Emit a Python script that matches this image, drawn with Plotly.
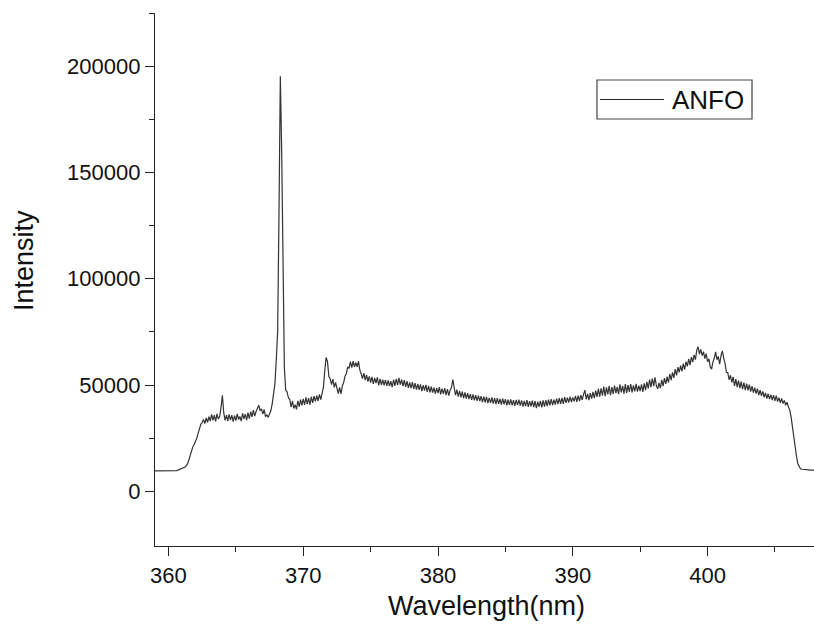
import numpy as np
import plotly.graph_objects as go

# wavelength grid (nm), 0.1 nm sampling
wavelength = np.round(np.arange(359.0, 407.95, 0.1), 1)

# intensity, in thousands, one row per nm
intensity_k = [
    9.6, 9.6, 9.6, 9.6, 9.6, 9.6, 9.6, 9.6, 9.6, 9.6,           # 359
    9.6, 9.6, 9.6, 9.6, 9.7, 9.7, 9.8, 10.0, 10.2, 10.4,        # 360
    10.6, 10.9, 11.3, 11.9, 12.8, 14.5, 16.6, 19.3, 20.8, 22.0, # 361
    23.3, 25.0, 27.3, 30.1, 31.5, 32.4, 33.8, 31.9, 34.6, 32.5, # 362
    35.1, 33.0, 36.2, 33.4, 35.8, 32.9, 36.4, 34.0, 35.2, 39.5, # 363
    45.2, 37.0, 33.4, 35.8, 33.1, 36.2, 33.5, 35.9, 32.8, 35.6, # 364
    33.3, 36.4, 33.8, 35.2, 33.0, 36.7, 34.1, 36.3, 33.5, 37.0, # 365
    34.2, 37.5, 35.0, 38.2, 35.4, 37.6, 39.2, 40.5, 37.9, 38.8, # 366
    36.4, 38.5, 35.2, 36.0, 34.8, 36.5, 38.0, 41.3, 45.0, 50.7, # 367
    62.0, 75.0, 130.0, 195.3, 160.0, 92.0, 58.0, 47.5, 46.8, 44.0, # 368
    43.2, 39.6, 42.5, 39.0, 40.8, 38.6, 42.6, 39.8, 43.2, 40.5, # 369
    43.5, 40.7, 44.2, 41.0, 43.9, 40.8, 44.5, 41.6, 44.8, 42.3, # 370
    45.0, 42.5, 45.6, 43.2, 45.8, 49.0, 57.0, 63.0, 61.0, 54.0, # 371
    53.0, 50.2, 52.8, 48.9, 51.2, 47.6, 46.0, 48.9, 45.8, 49.5, # 372
    51.2, 54.2, 55.4, 58.6, 57.8, 61.0, 58.2, 61.3, 58.5, 60.6, # 373
    58.6, 61.2, 57.0, 55.3, 53.0, 55.6, 52.3, 54.8, 51.6, 54.1, # 374
    51.2, 53.8, 50.6, 53.4, 50.9, 53.6, 49.8, 52.9, 50.1, 52.6, # 375
    49.9, 52.4, 49.6, 52.2, 49.5, 51.8, 49.0, 52.5, 49.6, 52.9, # 376
    50.0, 53.4, 50.2, 52.6, 49.5, 52.3, 49.2, 51.8, 48.7, 51.3, # 377
    48.6, 51.4, 48.2, 50.9, 47.9, 50.5, 47.8, 50.3, 47.2, 49.9, # 378
    47.4, 50.1, 46.8, 49.6, 46.5, 49.3, 46.4, 48.8, 46.0, 48.6, # 379
    46.2, 49.0, 45.6, 48.3, 45.9, 48.5, 45.3, 48.1, 45.0, 47.6, # 380
    48.9, 52.6, 48.0, 45.2, 47.8, 44.6, 47.3, 44.2, 46.9, 43.9, # 381
    46.5, 43.6, 46.2, 43.4, 45.7, 43.0, 45.6, 42.8, 45.2, 42.6, # 382
    45.0, 42.4, 44.8, 42.0, 44.6, 41.8, 44.5, 41.5, 44.0, 41.6, # 383
    44.2, 41.3, 43.9, 41.0, 43.8, 41.2, 43.5, 40.8, 43.6, 40.9, # 384
    43.4, 40.5, 43.1, 40.7, 43.3, 40.4, 42.9, 40.2, 43.0, 40.6, # 385
    43.2, 40.3, 42.8, 39.8, 42.6, 40.1, 42.9, 39.7, 42.4, 40.0, # 386
    42.7, 39.6, 42.5, 39.2, 42.2, 39.8, 42.6, 39.5, 42.8, 39.9, # 387
    42.9, 40.1, 43.2, 40.4, 43.4, 40.6, 43.1, 40.8, 43.6, 41.0, # 388
    43.8, 41.2, 44.0, 41.1, 44.3, 41.6, 44.1, 41.8, 44.6, 42.0, # 389
    44.2, 42.3, 44.9, 42.1, 45.0, 42.5, 45.3, 43.0, 45.6, 47.6, # 390
    43.3, 45.8, 42.9, 46.2, 43.6, 46.8, 43.9, 47.4, 44.4, 48.2, # 391
    44.6, 48.5, 45.0, 49.3, 44.8, 48.9, 45.6, 49.6, 45.3, 49.0, # 392
    45.9, 49.8, 46.2, 49.1, 45.7, 50.3, 46.5, 49.6, 46.0, 50.4, # 393
    46.3, 50.0, 46.8, 50.5, 46.5, 49.9, 47.0, 50.6, 46.9, 49.7, # 394
    47.2, 50.3, 46.8, 50.8, 47.6, 51.5, 48.4, 52.6, 49.0, 53.1, # 395
    49.5, 53.6, 49.8, 48.2, 51.0, 48.6, 52.4, 49.5, 53.2, 50.6, # 396
    54.0, 51.2, 55.2, 52.3, 56.0, 53.4, 57.5, 54.6, 58.4, 56.0, # 397
    59.2, 56.5, 60.1, 57.3, 61.0, 58.8, 62.3, 59.4, 63.1, 60.8, # 398
    64.2, 62.0, 66.3, 68.0, 64.6, 66.8, 63.9, 65.7, 62.4, 64.8, # 399
    61.0, 62.3, 58.6, 57.5, 60.9, 62.6, 65.6, 61.9, 63.5, 59.8, # 400
    63.8, 66.1, 62.5, 60.2, 56.0, 55.8, 52.5, 54.6, 51.2, 53.9, # 401
    49.6, 52.8, 49.0, 52.1, 48.6, 51.6, 48.1, 51.2, 47.6, 50.7, # 402
    47.5, 50.2, 46.9, 49.5, 46.4, 48.8, 46.0, 48.3, 45.3, 47.6, # 403
    44.9, 47.0, 44.2, 46.3, 43.6, 45.9, 43.4, 45.5, 42.9, 45.3, # 404
    42.6, 45.0, 42.2, 44.1, 41.6, 43.7, 41.3, 42.8, 40.5, 41.9, # 405
    39.8, 38.2, 35.0, 30.0, 25.5, 21.0, 16.5, 13.0, 11.5, 10.6, # 406
    10.4, 10.3, 10.2, 10.2, 10.1, 10.1, 10.1, 10.0, 10.0, 10.0, # 407
]
intensity = np.array(intensity_k) * 1000.0

series_name = "ANFO"
x_title = "Wavelength(nm)"
y_title = "Intensity"
x_ticks = [360, 370, 380, 390, 400]
y_ticks = [0, 50000, 100000, 150000, 200000]

FONT = "Arial, 'Liberation Sans', sans-serif"
AX = "#222222"

fig = go.Figure()
fig.add_trace(go.Scatter(
    x=wavelength[:len(intensity)], y=intensity, mode="lines",
    line=dict(color="#333333", width=1.2), name=series_name, showlegend=False,
))

W, H = 814, 628
L, R, T, B = 155, 0, 13, 82
pw, ph = W - L - R, H - T - B

def px_x(p):
    return (p - L) / pw

def px_y(p):
    return (H - B - p) / ph

fig.update_layout(
    width=W, height=H,
    margin=dict(l=L, r=R, t=T, b=B, autoexpand=False),
    paper_bgcolor="white", plot_bgcolor="white",
    font=dict(family=FONT, size=22, color="#111111"),
    xaxis=dict(
        range=[359.0, 407.9], tickvals=x_ticks, ticktext=[str(v) for v in x_ticks],
        ticks="outside", ticklen=9, tickwidth=1.4,
        tickcolor=AX, showline=True, linecolor=AX, linewidth=1.4, showgrid=False,
        zeroline=False, tickfont=dict(size=22),
        minor=dict(dtick=5, ticks="outside", ticklen=5, tickwidth=1.4, tickcolor=AX, showgrid=False),
    ),
    yaxis=dict(
        range=[-25700, 225000], tickvals=y_ticks, ticktext=[str(v) for v in y_ticks],
        ticks="outside", ticklen=9, tickwidth=1.4,
        tickcolor=AX, showline=True, linecolor=AX, linewidth=1.4, showgrid=False,
        zeroline=False, tickfont=dict(size=22),
        minor=dict(tickvals=[25000, 75000, 125000, 175000, 225000], ticks="outside", ticklen=5,
                   tickwidth=1.4, tickcolor=AX, showgrid=False),
    ),
    showlegend=False,
)

# axis titles
fig.add_annotation(text=x_title, xref="paper", yref="paper", x=px_x(486), y=px_y(606),
                   xanchor="center", yanchor="middle", showarrow=False,
                   font=dict(size=27, family=FONT, color="#111111"))
fig.add_annotation(text=y_title, xref="paper", yref="paper", x=px_x(24), y=px_y(261),
                   xanchor="center", yanchor="middle", showarrow=False, textangle=-90,
                   font=dict(size=27, family=FONT, color="#111111"))

# legend box drawn as shapes + text
fig.add_shape(type="rect", xref="paper", yref="paper",
              x0=px_x(597), x1=px_x(752), y0=px_y(119), y1=px_y(80),
              line=dict(color="#444444", width=1.2), fillcolor="white")
fig.add_shape(type="line", xref="paper", yref="paper",
              x0=px_x(600), x1=px_x(664), y0=px_y(99.5), y1=px_y(99.5),
              line=dict(color="#2a2a2a", width=1.2))
fig.add_annotation(text=series_name, xref="paper", yref="paper", x=px_x(670), y=px_y(100),
                   xanchor="left", yanchor="middle", showarrow=False,
                   font=dict(size=26, family=FONT, color="#111111"))

fig.write_html("out.html")
